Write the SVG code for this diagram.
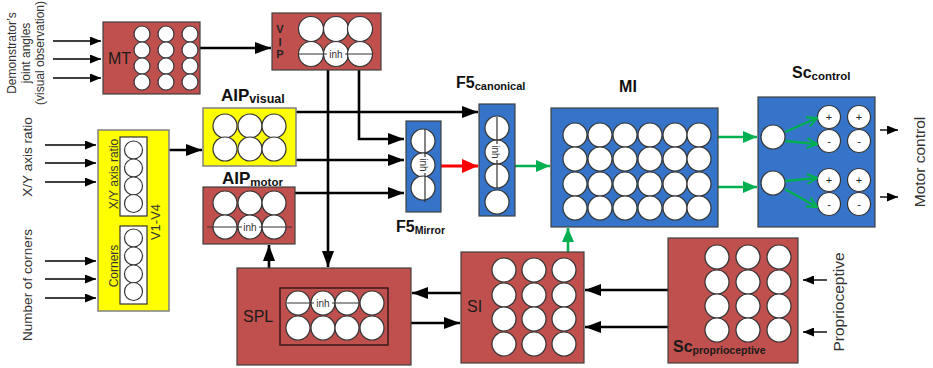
<svg xmlns="http://www.w3.org/2000/svg" width="933" height="368" viewBox="0 0 933 368">
<defs>
<style>
text{font-family:"Liberation Sans",Arial,Helvetica,sans-serif;}
.brown{fill:#c0504d;stroke:#404040;stroke-width:1.2;}
.yellow{fill:#ffff00;stroke:#808080;stroke-width:1.5;}
.blue{fill:#3574c9;stroke:#404040;stroke-width:1.2;}
.wbox{fill:#ffffff;stroke:#333333;stroke-width:1.2;}
.c{fill:#ffffff;stroke:#333333;stroke-width:1.2;}
.inhl{stroke:#333333;stroke-width:1.2;fill:none;}
.inh{font-size:10px;fill:#333333;text-anchor:middle;}
.side{font-size:13.5px;fill:#333333;text-anchor:middle;}
.tit{font-size:16px;font-weight:bold;fill:#111111;}
.sub{font-size:11px;font-weight:bold;}
.boxlbl{font-size:16px;fill:#1a1a1a;}
.thick{stroke:#000000;stroke-width:2.6;fill:none;}
.thin{stroke:#000000;stroke-width:1.4;fill:none;}
.green{stroke:#00b050;stroke-width:2.6;fill:none;}
.red{stroke:#ff0000;stroke-width:3;fill:none;}
.sign{font-size:11px;fill:#222222;text-anchor:middle;}
</style>
<marker id="ah" markerUnits="userSpaceOnUse" markerWidth="16" markerHeight="12" refX="16" refY="6" orient="auto"><path d="M0,0 L16,6 L0,12 z" fill="#000"/></marker>
<marker id="ahs" markerUnits="userSpaceOnUse" markerWidth="11" markerHeight="9" refX="11" refY="4.5" orient="auto"><path d="M0,0 L11,4.5 L0,9 z" fill="#000"/></marker>
<marker id="ahg" markerUnits="userSpaceOnUse" markerWidth="14" markerHeight="12" refX="14" refY="6" orient="auto"><path d="M0,0 L14,6 L0,12 z" fill="#00b050"/></marker>
<marker id="ahgo" markerUnits="userSpaceOnUse" markerWidth="12" markerHeight="12" refX="11" refY="6" orient="auto"><path d="M1,1 L11,6 L1,11" fill="none" stroke="#00b050" stroke-width="2.2"/></marker>
<marker id="ahr" markerUnits="userSpaceOnUse" markerWidth="16" markerHeight="14" refX="16" refY="7" orient="auto"><path d="M0,0 L16,7 L0,14 z" fill="#ff0000"/></marker>
</defs>

<!-- side labels -->
<g id="labels">
<text class="side" transform="translate(16,53) rotate(-90)" style="font-size:12px">Demonstrator’s</text>
<text class="side" transform="translate(30,53) rotate(-90)" style="font-size:12px">joint angles</text>
<text class="side" transform="translate(44,53) rotate(-90)" style="font-size:12px">(visual observation)</text>
<text class="side" transform="translate(32,157) rotate(-90)">X/Y axis ratio</text>
<text class="side" transform="translate(32,285) rotate(-90)">Number of corners</text>
<text class="side" transform="translate(925,162) rotate(-90)" style="font-size:15.5px">Motor control</text>
<text class="side" transform="translate(844,302) rotate(-90)" style="font-size:15.5px">Proprioceptive</text>
</g>

<!-- connectors -->
<g id="connectors">
<line class="thin" x1="53" y1="41" x2="101" y2="41" marker-end="url(#ahs)"/>
<line class="thin" x1="53" y1="59" x2="101" y2="59" marker-end="url(#ahs)"/>
<line class="thin" x1="53" y1="78" x2="101" y2="78" marker-end="url(#ahs)"/>
<line class="thin" x1="45" y1="145" x2="96" y2="145" marker-end="url(#ahs)"/>
<line class="thin" x1="45" y1="163" x2="96" y2="163" marker-end="url(#ahs)"/>
<line class="thin" x1="45" y1="182" x2="96" y2="182" marker-end="url(#ahs)"/>
<line class="thin" x1="45" y1="261" x2="96" y2="261" marker-end="url(#ahs)"/>
<line class="thin" x1="45" y1="279" x2="96" y2="279" marker-end="url(#ahs)"/>
<line class="thin" x1="45" y1="298" x2="96" y2="298" marker-end="url(#ahs)"/>
<line class="thick" x1="200" y1="48" x2="271" y2="48" marker-end="url(#ah)"/>
<line class="thick" x1="169" y1="150" x2="202" y2="150" marker-end="url(#ah)"/>
<line class="thick" x1="296" y1="112" x2="478" y2="112" marker-end="url(#ah)"/>
<line class="thick" x1="296" y1="160" x2="404" y2="160" marker-end="url(#ah)"/>
<line class="thick" x1="295" y1="193" x2="404" y2="193" marker-end="url(#ah)"/>
<polyline class="thick" points="359,70 359,139 404,139" marker-end="url(#ah)"/>
<line class="thick" x1="328" y1="70" x2="328" y2="267" marker-end="url(#ah)"/>
<line class="thick" x1="269" y1="268" x2="269" y2="245" marker-end="url(#ah)"/>
<line class="thick" x1="461" y1="293" x2="412" y2="293" marker-end="url(#ah)"/>
<line class="thick" x1="411" y1="323" x2="460" y2="323" marker-end="url(#ah)"/>
<line class="thick" x1="668" y1="290" x2="585" y2="290" marker-end="url(#ah)"/>
<line class="thick" x1="668" y1="327" x2="585" y2="327" marker-end="url(#ah)"/>
<line class="red" x1="441" y1="166" x2="478" y2="166" marker-end="url(#ahr)"/>
<line class="green" x1="515" y1="166" x2="550" y2="166" marker-end="url(#ahg)"/>
<line class="green" x1="568" y1="252" x2="568" y2="228" marker-end="url(#ahg)"/>
<line class="green" x1="718" y1="137" x2="757" y2="137" marker-end="url(#ahg)"/>
<line class="green" x1="718" y1="187" x2="757" y2="187" marker-end="url(#ahg)"/>
<line class="thin" x1="880" y1="130" x2="898" y2="130" marker-end="url(#ahs)"/>
<line class="thin" x1="880" y1="197" x2="898" y2="197" marker-end="url(#ahs)"/>
<line class="thin" x1="827" y1="280" x2="803" y2="280" marker-end="url(#ahs)"/>
<line class="thin" x1="827" y1="332" x2="803" y2="332" marker-end="url(#ahs)"/>
</g>

<!-- MT -->
<g id="MT">
<rect class="brown" x="103" y="22" width="97" height="72"/>
<text class="boxlbl" x="108" y="64">MT</text>
<circle class="c" cx="142" cy="34" r="8"/><circle class="c" cx="166" cy="34" r="8"/><circle class="c" cx="190" cy="34" r="8"/>
<circle class="c" cx="142" cy="50" r="8"/><circle class="c" cx="166" cy="50" r="8"/><circle class="c" cx="190" cy="50" r="8"/>
<circle class="c" cx="142" cy="66" r="8"/><circle class="c" cx="166" cy="66" r="8"/><circle class="c" cx="190" cy="66" r="8"/>
<circle class="c" cx="142" cy="82" r="8"/><circle class="c" cx="166" cy="82" r="8"/><circle class="c" cx="190" cy="82" r="8"/>
</g>

<!-- VIP -->
<g id="VIP">
<rect class="brown" x="272" y="13" width="109" height="57"/>
<text x="280" y="33" style="font-size:11px;font-weight:bold;fill:#222;text-anchor:middle">V</text>
<text x="280" y="46" style="font-size:11px;font-weight:bold;fill:#222;text-anchor:middle">I</text>
<text x="280" y="58" style="font-size:11px;font-weight:bold;fill:#222;text-anchor:middle">P</text>
<circle class="c" cx="311" cy="29" r="12.5"/><circle class="c" cx="336" cy="29" r="12.5"/><circle class="c" cx="360" cy="29" r="12.5"/>
<circle class="c" cx="311" cy="54" r="12.5"/><circle class="c" cx="336" cy="54" r="12.5"/><circle class="c" cx="360" cy="54" r="12.5"/>
<line class="inhl" x1="298" y1="54" x2="373" y2="54"/>
<rect x="327" y="49" width="18" height="10" fill="#fff"/>
<text class="inh" x="336" y="58">inh</text>
</g>

<!-- V1-V4 -->
<g id="V1V4">
<rect class="yellow" x="98" y="130" width="71" height="181"/>
<rect class="wbox" x="120" y="137" width="27" height="79"/>
<rect class="wbox" x="120" y="226" width="27" height="78"/>
<circle class="c" cx="133.5" cy="150" r="9"/><circle class="c" cx="133.5" cy="168" r="9"/><circle class="c" cx="133.5" cy="186" r="9"/><circle class="c" cx="133.5" cy="203.5" r="9"/>
<circle class="c" cx="133.5" cy="238" r="9"/><circle class="c" cx="133.5" cy="256" r="9"/><circle class="c" cx="133.5" cy="274" r="9"/><circle class="c" cx="133.5" cy="291.5" r="9"/>
<text transform="translate(118,174) rotate(-90)" style="font-size:12px;fill:#333;text-anchor:middle">X/Y axis ratio</text>
<text transform="translate(118,266) rotate(-90)" style="font-size:12px;fill:#333;text-anchor:middle">Corners</text>
<text transform="translate(160,222) rotate(-90)" style="font-size:13px;fill:#333;text-anchor:middle">V1-V4</text>
</g>

<!-- AIP visual -->
<g id="AIPvisual">
<text class="tit" x="221" y="101" style="font-size:17px">AIP<tspan class="sub" dy="2" style="font-size:12.5px">visual</tspan></text>
<rect class="yellow" x="203" y="108" width="93" height="58"/>
<circle class="c" cx="225" cy="126" r="12"/><circle class="c" cx="250" cy="126" r="12"/><circle class="c" cx="274" cy="126" r="12"/>
<circle class="c" cx="225" cy="149" r="12"/><circle class="c" cx="250" cy="149" r="12"/><circle class="c" cx="274" cy="149" r="12"/>
</g>

<!-- AIP motor -->
<g id="AIPmotor">
<text class="tit" x="222" y="184" style="font-size:17px">AIP<tspan class="sub" dy="2" style="font-size:11.5px">motor</tspan></text>
<rect class="brown" x="203" y="187" width="92" height="57"/>
<circle class="c" cx="225" cy="203" r="12"/><circle class="c" cx="250" cy="203" r="12"/><circle class="c" cx="274" cy="203" r="12"/>
<circle class="c" cx="225" cy="227" r="12"/><circle class="c" cx="250" cy="227" r="12"/><circle class="c" cx="274" cy="227" r="12"/>
<line class="inhl" x1="207" y1="227" x2="292" y2="227"/>
<rect x="242" y="222" width="17" height="9" fill="#fff"/>
<text class="inh" x="250" y="231">inh</text>
</g>

<!-- F5 mirror -->
<g id="F5mirror">
<rect class="blue" x="406" y="121" width="35" height="91"/>
<circle class="c" cx="423" cy="141" r="12"/><circle class="c" cx="423" cy="165" r="12"/><circle class="c" cx="423" cy="188" r="12"/>
<line class="inhl" x1="425" y1="129" x2="425" y2="202"/>
<rect x="418" y="157" width="10" height="16" fill="#fff"/>
<text class="inh" transform="translate(420,165) rotate(90)">inh</text>
<text class="tit" x="396" y="232">F5<tspan class="sub" dy="2" style="font-size:10.5px">Mirror</tspan></text>
</g>

<!-- F5 canonical -->
<g id="F5canonical">
<text class="tit" x="456" y="88">F5<tspan class="sub" dy="2" style="font-size:11px">canonical</tspan></text>
<rect class="blue" x="479" y="104" width="36" height="112"/>
<circle class="c" cx="497" cy="128" r="12"/><circle class="c" cx="497" cy="152" r="12"/><circle class="c" cx="497" cy="176" r="12"/><circle class="c" cx="497" cy="202" r="12"/>
<line class="inhl" x1="497" y1="117" x2="497" y2="188"/>
<rect x="490" y="144" width="10" height="16" fill="#fff"/>
<text class="inh" transform="translate(492,152) rotate(90)">inh</text>
</g>

<!-- MI -->
<g id="MI">
<text class="tit" x="628" y="92" text-anchor="middle">MI</text>
<rect class="blue" x="551" y="108" width="167" height="119"/>
<circle class="c" cx="575" cy="135" r="12"/><circle class="c" cx="600" cy="135" r="12"/><circle class="c" cx="625" cy="135" r="12"/><circle class="c" cx="650" cy="135" r="12"/><circle class="c" cx="675" cy="135" r="12"/><circle class="c" cx="699" cy="135" r="12"/>
<circle class="c" cx="575" cy="159" r="12"/><circle class="c" cx="600" cy="159" r="12"/><circle class="c" cx="625" cy="159" r="12"/><circle class="c" cx="650" cy="159" r="12"/><circle class="c" cx="675" cy="159" r="12"/><circle class="c" cx="699" cy="159" r="12"/>
<circle class="c" cx="575" cy="184" r="12"/><circle class="c" cx="600" cy="184" r="12"/><circle class="c" cx="625" cy="184" r="12"/><circle class="c" cx="650" cy="184" r="12"/><circle class="c" cx="675" cy="184" r="12"/><circle class="c" cx="699" cy="184" r="12"/>
<circle class="c" cx="575" cy="208" r="12"/><circle class="c" cx="600" cy="208" r="12"/><circle class="c" cx="625" cy="208" r="12"/><circle class="c" cx="650" cy="208" r="12"/><circle class="c" cx="675" cy="208" r="12"/><circle class="c" cx="699" cy="208" r="12"/>
</g>

<!-- Sc control -->
<g id="ScControl">
<text class="tit" x="792" y="78">Sc<tspan class="sub" dy="2" style="font-size:11.5px">control</tspan></text>
<rect class="blue" x="758" y="97" width="117" height="130"/>
<circle class="c" cx="773" cy="137" r="12"/><circle class="c" cx="773" cy="183" r="12"/>
<circle class="c" cx="829" cy="117" r="11.5"/><circle class="c" cx="859" cy="117" r="11.5"/>
<circle class="c" cx="829" cy="141" r="11.5"/><circle class="c" cx="859" cy="141" r="11.5"/>
<circle class="c" cx="829" cy="180" r="11.5"/><circle class="c" cx="859" cy="180" r="11.5"/>
<circle class="c" cx="829" cy="204" r="11.5"/><circle class="c" cx="859" cy="204" r="11.5"/>
<text class="sign" x="829" y="121">+</text><text class="sign" x="859" y="121">+</text>
<text class="sign" x="829" y="145">-</text><text class="sign" x="859" y="145">-</text>
<text class="sign" x="829" y="184">+</text><text class="sign" x="859" y="184">+</text>
<text class="sign" x="829" y="208">-</text><text class="sign" x="859" y="208">-</text>
<line class="green" style="stroke-width:2.4" x1="785" y1="132" x2="817" y2="118" marker-end="url(#ahgo)"/>
<line class="green" style="stroke-width:2.4" x1="785" y1="141" x2="817" y2="144" marker-end="url(#ahgo)"/>
<line class="green" style="stroke-width:2.4" x1="785" y1="181" x2="817" y2="178" marker-end="url(#ahgo)"/>
<line class="green" style="stroke-width:2.4" x1="785" y1="189" x2="817" y2="207" marker-end="url(#ahgo)"/>
</g>

<!-- SPL -->
<g id="SPL">
<rect class="brown" x="237" y="268" width="174" height="97"/>
<rect x="280" y="288" width="108" height="57" fill="#c0504d" stroke="#3a1a1a" stroke-width="1.5"/>
<text class="boxlbl" x="243" y="322">SPL</text>
<circle class="c" cx="298" cy="303" r="12"/><circle class="c" cx="323" cy="303" r="12"/><circle class="c" cx="347" cy="303" r="12"/><circle class="c" cx="372" cy="303" r="12"/>
<circle class="c" cx="298" cy="328" r="12"/><circle class="c" cx="323" cy="328" r="12"/><circle class="c" cx="347" cy="328" r="12"/><circle class="c" cx="372" cy="328" r="12"/>
<line class="inhl" x1="287" y1="303" x2="359" y2="303"/>
<rect x="314" y="298" width="18" height="9" fill="#fff"/>
<text class="inh" x="323" y="307">inh</text>
</g>

<!-- SI -->
<g id="SI">
<rect class="brown" x="461" y="252" width="123" height="111"/>
<text class="boxlbl" x="467" y="312">SI</text>
<circle class="c" cx="504" cy="270" r="12"/><circle class="c" cx="534" cy="270" r="12"/><circle class="c" cx="564" cy="270" r="12"/>
<circle class="c" cx="504" cy="295" r="12"/><circle class="c" cx="534" cy="295" r="12"/><circle class="c" cx="564" cy="295" r="12"/>
<circle class="c" cx="504" cy="319" r="12"/><circle class="c" cx="534" cy="319" r="12"/><circle class="c" cx="564" cy="319" r="12"/>
<circle class="c" cx="504" cy="344" r="12"/><circle class="c" cx="534" cy="344" r="12"/><circle class="c" cx="564" cy="344" r="12"/>
</g>

<!-- Sc proprioceptive -->
<g id="ScProprioceptive">
<rect class="brown" x="668" y="238" width="130" height="125"/>
<circle class="c" cx="717" cy="257" r="12"/><circle class="c" cx="748" cy="257" r="12"/><circle class="c" cx="779" cy="257" r="12"/>
<circle class="c" cx="717" cy="282" r="12"/><circle class="c" cx="748" cy="282" r="12"/><circle class="c" cx="779" cy="282" r="12"/>
<circle class="c" cx="717" cy="306" r="12"/><circle class="c" cx="748" cy="306" r="12"/><circle class="c" cx="779" cy="306" r="12"/>
<circle class="c" cx="717" cy="330" r="12"/><circle class="c" cx="748" cy="330" r="12"/><circle class="c" cx="779" cy="330" r="12"/>
<text class="tit" x="673" y="352" style="fill:#1a1a1a">Sc<tspan class="sub" dy="2" style="font-size:10.5px">proprioceptive</tspan></text>
</g>
</svg>
